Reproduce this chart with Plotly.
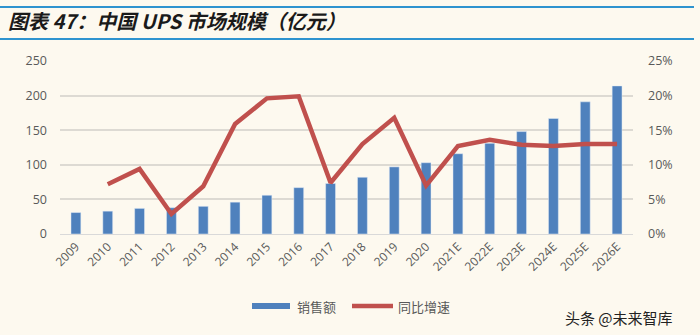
import plotly.graph_objects as go

categories = ["2009", "2010", "2011", "2012", "2013", "2014", "2015", "2016", "2017",
              "2018", "2019", "2020", "2021E", "2022E", "2023E", "2024E", "2025E", "2026E"]
sales = [31, 33, 37, 38, 40, 46, 56, 67, 73, 82, 97, 103, 116, 131, 148, 167, 191, 214]
growth = [None, 7.2, 9.4, 2.9, 6.9, 15.9, 19.6, 19.9, 7.4, 13.0, 16.8, 7.0, 12.7, 13.6,
          12.9, 12.7, 13.0, 13.0]
left_ticks = [0, 50, 100, 150, 200, 250]
right_ticks = [0, 5, 10, 15, 20, 25]
right_labels = ["0%", "5%", "10%", "15%", "20%", "25%"]

BG = "#FDF9EF"
BLUE = "#4F81BD"
RED = "#C0504D"
TICK = "#595959"
W, H = 700, 335
L, R, T, B = 60, 67, 61, 101

fig = go.Figure()
fig.add_trace(go.Bar(x=categories, y=sales, marker_color=BLUE, name="销售额",
                     showlegend=False, yaxis="y"))
fig.add_trace(go.Scatter(x=categories, y=growth, mode="lines", name="同比增速",
                         line=dict(color=RED, width=4.5), showlegend=False,
                         yaxis="y2", connectgaps=False))

fig.update_layout(
    width=W, height=H,
    margin=dict(l=L, r=R, t=T, b=B),
    paper_bgcolor=BG, plot_bgcolor=BG,
    bargap=0.69,
    font=dict(family="Open Sans, Liberation Sans, sans-serif", color=TICK, size=12),
    xaxis=dict(type="category", tickangle=-45, showgrid=False, showline=True,
               linecolor="#D9D9D9", linewidth=1, ticks="",
               tickfont=dict(size=12, color=TICK)),
    yaxis=dict(range=[0, 250], tickvals=left_ticks, showgrid=True, gridcolor="#DDDAD3",
               gridwidth=1.5, zeroline=False, ticks="", ticklen=0,
               ticklabelstandoff=12,
               tickfont=dict(size=12.5, color=TICK)),
    yaxis2=dict(range=[0, 25], overlaying="y", side="right", tickvals=right_ticks,
                ticktext=right_labels, showgrid=False, zeroline=False,
                ticklabelstandoff=14,
                tickfont=dict(size=12.5, color=TICK)),
    title=dict(text="<b><i>图表 47：中国 UPS 市场规模（亿元）</i></b>",
               xref="container", yref="container", x=8 / W, xanchor="left",
               y=1 - 22 / H, yanchor="middle",
               font=dict(size=20, color="#1a1a1a",
                         family="Noto Sans CJK SC, Liberation Sans, sans-serif")),
)

pw = W - L - R
ph = H - T - B


def px(xp):
    return (xp - L) / pw


def py(yp):
    return (H - B - yp) / ph


# header rules
for yl in (7, 39):
    fig.add_shape(type="line", xref="paper", yref="paper", x0=px(0), x1=px(694),
                  y0=py(yl), y1=py(yl), line=dict(color="#2E93CF", width=2))

# legend
ly = 306
fig.add_shape(type="rect", xref="paper", yref="paper", x0=px(252), x1=px(290),
              y0=py(ly + 3), y1=py(ly - 3), fillcolor=BLUE, line=dict(width=0))
fig.add_annotation(xref="paper", yref="paper", x=px(295), y=py(ly), text="销售额",
                   showarrow=False, xanchor="left", yanchor="middle",
                   font=dict(size=13, color=TICK, family="Noto Sans CJK SC"))
fig.add_shape(type="line", xref="paper", yref="paper", x0=px(352), x1=px(393),
              y0=py(ly), y1=py(ly), line=dict(color=RED, width=4.5))
fig.add_annotation(xref="paper", yref="paper", x=px(396), y=py(ly), text="同比增速",
                   showarrow=False, xanchor="left", yanchor="middle",
                   font=dict(size=13, color=TICK, family="Noto Sans CJK SC"))

# watermark
fig.add_annotation(xref="paper", yref="paper", x=px(563), y=py(317), text="头条 @未来智库",
                   showarrow=False, xanchor="left", yanchor="middle",
                   font=dict(size=15, color="#222222", family="Noto Sans CJK SC"))

fig.write_html("out.html")
